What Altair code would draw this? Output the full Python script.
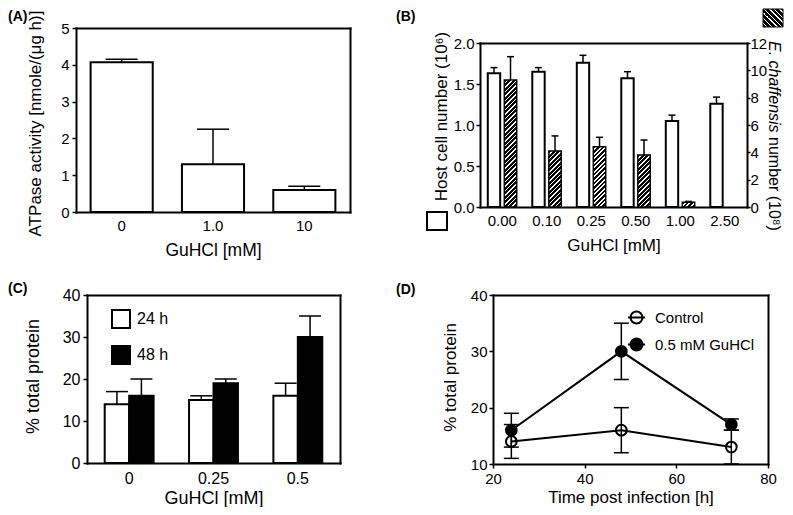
import altair as alt
import pandas as pd

FONT = "Liberation Sans"

# ---------------- data ----------------
# Panel A
A_dose = ["0", "1.0", "10"]
A_val = [4.07, 1.30, 0.60]
A_err = [0.08, 0.95, 0.10]

# Panel B
B_dose = ["0.00", "0.10", "0.25", "0.50", "1.00", "2.50"]
B_host = [1.63, 1.65, 1.76, 1.57, 1.05, 1.26]
B_host_err = [0.07, 0.05, 0.09, 0.08, 0.07, 0.08]
B_ech_dose = ["0.00", "0.10", "0.25", "0.50", "1.00"]
B_ech = [9.3, 4.1, 4.4, 3.8, 0.35]
B_ech_err = [1.7, 1.1, 0.7, 1.1, 0.06]

# Panel C
C_dose = ["0", "0.25", "0.5"]
C_series = ["24 h", "48 h"]
C_24 = [14, 15, 16]
C_24_err = [3, 1, 3]
C_48 = [16, 19, 30]
C_48_err = [4, 1, 5]

# Panel D
D_time = [24, 48, 72]
D_series = ["Control", "0.5 mM GuHCl"]
D_ctrl = [14, 16, 13]
D_ctrl_err = [3, 4, 3]
D_gu = [16, 30, 17]
D_gu_err = [3, 5, 1]

# ---------------- canvas & panel frames (pixels) ----------------
W, H = 777, 499
# each panel: left, right, top, bottom of its plot frame
PA = dict(l=68, r=342, t=20, b=204)
PB = dict(l=472, r=739, t=35, b=199)
PC = dict(l=79, r=332, t=287, b=455)
PD = dict(l=485, r=760, t=287, b=456)


def hatch(w, h, orient="/", period=4.5, black=0.62):
    """Diagonal stripe fill built as a linear gradient with hard stops."""
    k = (w + h) / (w * w + h * h)
    if orient == "/":
        x1, y1, x2, y2 = 0, 0, w * k, h * k
    else:
        x1, y1, x2, y2 = 0, 1, w * k, 1 - h * k
    n = (w + h) / period
    stops = []
    i = 0
    while i < n:
        a = min(i / n, 1)
        b = min((i + black) / n, 1)
        c = min((i + 1) / n, 1)
        stops += [
            {"offset": a, "color": "black"},
            {"offset": b, "color": "black"},
            {"offset": b, "color": "white"},
            {"offset": c, "color": "white"},
        ]
        i += 1
    return {"gradient": "linear", "x1": x1, "y1": y1, "x2": x2, "y2": y2, "stops": stops}


def label(txt, x, y, size=14, weight="bold", style="normal", angle=0, align="left", baseline="top"):
    return alt.Chart(pd.DataFrame({"t": [txt]})).mark_text(
        align=align, baseline=baseline, fontSize=size, fontWeight=weight,
        fontStyle=style, font=FONT, color="black", angle=angle
    ).encode(text="t:N", x=alt.value(x), y=alt.value(y))


def frame_top(P):
    return alt.Axis(orient="top", offset=-P["t"], labels=False, ticks=False, title=None, domain=True)


def frame_right(P):
    return alt.Axis(orient="right", offset=P["r"] - W, labels=False, ticks=False, title=None, domain=True)


# ---------------- Panel A ----------------
dfA = pd.DataFrame({"dose": A_dose, "val": A_val,
                    "up": [v + e for v, e in zip(A_val, A_err)]})
xsA = alt.Scale(domain=A_dose, range=[PA["l"], PA["r"]], paddingInner=0.32, paddingOuter=0.16)
ysA = alt.Scale(domain=[0, 5], range=[PA["b"], PA["t"]])
axA_x = alt.Axis(orient="bottom", offset=PA["b"] - H, title="GuHCl [mM]", labelAngle=0,
                 ticks=False, labelPadding=6, labelFontSize=15, titleFontSize=17.5,
                 titleX=(PA["l"] + PA["r"]) / 2, titleY=38, titleBaseline="middle", titleAlign="center")
axA_y = alt.Axis(orient="left", offset=-PA["l"], title="ATPase activity [nmole/(μg h)]",
                 values=[0, 1, 2, 3, 4, 5], labelFontSize=15, titleFontSize=17,
                 titleX=-41, titleY=115, titleBaseline="middle", titleAlign="center",
                 tickSize=4, labelPadding=3)
barsA = alt.Chart(dfA).mark_bar(fill="white", stroke="black", strokeWidth=2).encode(
    x=alt.X("dose:N", sort=A_dose, scale=xsA, axis=axA_x),
    y=alt.Y("val:Q", scale=ysA, axis=axA_y))
ruleA = alt.Chart(dfA).mark_rule(color="black", strokeWidth=1.5).encode(
    x=alt.X("dose:N", sort=A_dose, scale=xsA, axis=frame_top(PA)),
    y=alt.Y("val:Q", scale=ysA, axis=frame_right(PA)), y2="up:Q")
capA = alt.Chart(dfA).mark_tick(color="black", orient="horizontal", size=32,
                                thickness=1.5, opacity=1).encode(
    x=alt.X("dose:N", sort=A_dose, scale=xsA, axis=None),
    y=alt.Y("up:Q", scale=ysA, axis=None))

# ---------------- Panel B ----------------
B_pi, B_oi = 0.35, 0.25
stepB = (PB["r"] - PB["l"]) / len(B_dose)
bandB = stepB * (1 - B_pi)
barB = bandB / (2 - B_oi) * (1 - B_oi)
HB = PB["b"] - PB["t"]

dfBh = pd.DataFrame({"dose": B_dose, "val": B_host, "s": "host",
                     "up": [v + e for v, e in zip(B_host, B_host_err)]})
dfBe = pd.DataFrame({"dose": B_ech_dose, "val": B_ech, "s": "ech",
                     "up": [v + e for v, e in zip(B_ech, B_ech_err)]})
xsB = alt.Scale(domain=B_dose, range=[PB["l"], PB["r"]], paddingInner=B_pi, paddingOuter=B_pi / 2)
xoB = alt.XOffset("s:N", scale=alt.Scale(domain=["host", "ech"], paddingInner=B_oi, paddingOuter=0))
ysBh = alt.Scale(domain=[0, 2], range=[PB["b"], PB["t"]])
ysBe = alt.Scale(domain=[0, 12], range=[PB["b"], PB["t"]])
axB_x = alt.Axis(orient="bottom", offset=PB["b"] - H, title="GuHCl [mM]", labelAngle=0,
                 ticks=False, labelPadding=6, labelFontSize=15, titleFontSize=17,
                 titleX=(PB["l"] + PB["r"]) / 2, titleY=38, titleBaseline="middle", titleAlign="center")
axB_yl = alt.Axis(orient="left", offset=-PB["l"], title="Host cell number (10⁶)",
                  values=[0, 0.5, 1.0, 1.5, 2.0], format=".1f", labelFontSize=15,
                  titleFontSize=17, titleX=-39, titleY=108, titleBaseline="middle",
                  titleAlign="center", tickSize=4, labelPadding=2)
axB_yr = alt.Axis(orient="right", offset=PB["r"] - W, title=None, values=[0, 2, 4, 6, 8, 10, 12],
                  labelFontSize=15, tickSize=3, labelPadding=0)

hostBars = alt.Chart(dfBh).mark_bar(fill="white", stroke="black", strokeWidth=2).encode(
    x=alt.X("dose:N", sort=B_dose, scale=xsB, axis=axB_x), xOffset=xoB,
    y=alt.Y("val:Q", scale=ysBh, axis=axB_yl))
hostRule = alt.Chart(dfBh).mark_rule(color="black", strokeWidth=1.5).encode(
    x=alt.X("dose:N", sort=B_dose, scale=xsB, axis=frame_top(PB)), xOffset=xoB,
    y=alt.Y("val:Q", scale=ysBh, axis=None), y2="up:Q")
hostCap = alt.Chart(dfBh).mark_tick(color="black", orient="horizontal", size=7,
                                    thickness=1.5, opacity=1).encode(
    x=alt.X("dose:N", sort=B_dose, scale=xsB, axis=None), xOffset=xoB,
    y=alt.Y("up:Q", scale=ysBh, axis=None))

echLayers = []
for i, (d, v) in enumerate(zip(B_ech_dose, B_ech)):
    hpx = v / 12 * HB
    echLayers.append(
        alt.Chart(dfBe).transform_filter(alt.datum.dose == d).mark_bar(
            fill=hatch(barB, hpx, "/"), stroke="black", strokeWidth=1.5).encode(
            x=alt.X("dose:N", sort=B_dose, scale=xsB, axis=None), xOffset=xoB,
            y=alt.Y("val:Q", scale=ysBe, axis=axB_yr if i == 0 else None)))
echRule = alt.Chart(dfBe).mark_rule(color="black", strokeWidth=1.5).encode(
    x=alt.X("dose:N", sort=B_dose, scale=xsB, axis=None), xOffset=xoB,
    y=alt.Y("val:Q", scale=ysBe, axis=None), y2="up:Q")
echCap = alt.Chart(dfBe).mark_tick(color="black", orient="horizontal", size=7,
                                   thickness=1.5, opacity=1).encode(
    x=alt.X("dose:N", sort=B_dose, scale=xsB, axis=None), xOffset=xoB,
    y=alt.Y("up:Q", scale=ysBe, axis=None))

swatchWhite = alt.Chart(pd.DataFrame({"k": [0]})).mark_rect(
    fill="white", stroke="black", strokeWidth=2).encode(
    x=alt.value(419), x2=alt.value(439), y=alt.value(204), y2=alt.value(222))
swatchHatch = alt.Chart(pd.DataFrame({"k": [0]})).mark_rect(
    fill=hatch(20, 18, "\\", period=5), stroke="black", strokeWidth=1).encode(
    x=alt.value(755), x2=alt.value(775), y=alt.value(1), y2=alt.value(19))

# ---------------- Panel C ----------------
rowsC = []
for s, vals, errs in [("24 h", C_24, C_24_err), ("48 h", C_48, C_48_err)]:
    for d, v, e in zip(C_dose, vals, errs):
        rowsC.append({"dose": d, "series": s, "val": v, "up": v + e})
dfC = pd.DataFrame(rowsC)
xsC = alt.Scale(domain=C_dose, range=[PC["l"], PC["r"]], paddingInner=0.42, paddingOuter=0.21)
xoC = alt.XOffset("series:N", scale=alt.Scale(domain=C_series, paddingInner=0, paddingOuter=0))
ysC = alt.Scale(domain=[0, 40], range=[PC["b"], PC["t"]])
axC_x = alt.Axis(orient="bottom", offset=PC["b"] - H, title="GuHCl [mM]", labelAngle=0,
                 ticks=False, labelPadding=7, labelFontSize=16, titleFontSize=18,
                 titleX=(PC["l"] + PC["r"]) / 2, titleY=35, titleBaseline="middle", titleAlign="center")
axC_y = alt.Axis(orient="left", offset=-PC["l"], title="% total protein",
                 values=[0, 10, 20, 30, 40], labelFontSize=16, titleFontSize=18,
                 titleX=-54, titleY=368, titleBaseline="middle", titleAlign="center",
                 tickSize=4, labelPadding=3)
barsC = alt.Chart(dfC).mark_bar(stroke="black", strokeWidth=2).encode(
    x=alt.X("dose:N", sort=C_dose, scale=xsC, axis=axC_x), xOffset=xoC,
    y=alt.Y("val:Q", scale=ysC, axis=axC_y),
    fill=alt.Fill("series:N", scale=alt.Scale(domain=C_series, range=["white", "black"]),
                  legend=alt.Legend(title=None, orient="none", legendX=PC["l"] + 24,
                                    legendY=PC["t"] + 14, symbolType="square", symbolSize=324,
                                    symbolStrokeColor="black", symbolStrokeWidth=2,
                                    labelFontSize=16, labelFont=FONT, rowPadding=10,
                                    labelOffset=6, padding=0)))
ruleC = alt.Chart(dfC).mark_rule(color="black", strokeWidth=1.5).encode(
    x=alt.X("dose:N", sort=C_dose, scale=xsC, axis=frame_top(PC)), xOffset=xoC,
    y=alt.Y("val:Q", scale=ysC, axis=frame_right(PC)), y2="up:Q")
capC = alt.Chart(dfC).mark_tick(color="black", orient="horizontal", size=22,
                                thickness=1.5, opacity=1).encode(
    x=alt.X("dose:N", sort=C_dose, scale=xsC, axis=None), xOffset=xoC,
    y=alt.Y("up:Q", scale=ysC, axis=None))

# ---------------- Panel D ----------------
rowsD = []
for s, vals, errs in [("Control", D_ctrl, D_ctrl_err), ("0.5 mM GuHCl", D_gu, D_gu_err)]:
    for t, v, e in zip(D_time, vals, errs):
        rowsD.append({"t": t, "series": s, "val": v, "lo": v - e, "hi": v + e})
dfD = pd.DataFrame(rowsD)
xsD = alt.Scale(domain=[20, 80], nice=False, range=[PD["l"], PD["r"]])
ysD = alt.Scale(domain=[10, 40], nice=False, zero=False, range=[PD["b"], PD["t"]])
axD_x = alt.Axis(orient="bottom", offset=PD["b"] - H, title="Time post infection [h]",
                 values=[20, 40, 60, 80], labelFontSize=15, titleFontSize=17, tickSize=4,
                 labelPadding=3, titleX=(PD["l"] + PD["r"]) / 2, titleY=33,
                 titleBaseline="middle", titleAlign="center")
axD_y = alt.Axis(orient="left", offset=-PD["l"], title="% total protein", values=[10, 20, 30, 40],
                 labelFontSize=15, titleFontSize=17, titleX=-43, titleY=369,
                 titleBaseline="middle", titleAlign="center", tickSize=4, labelPadding=2)
SYM = "M-1,0L1,0M-0.7,0A0.7,0.7,0,1,1,0.7,0A0.7,0.7,0,1,1,-0.7,0Z"
lineD = alt.Chart(dfD).mark_line(color="black", strokeWidth=2).encode(
    x=alt.X("t:Q", scale=xsD, axis=axD_x), y=alt.Y("val:Q", scale=ysD, axis=axD_y),
    detail="series:N")
ruleD = alt.Chart(dfD).mark_rule(color="black", strokeWidth=1.5).encode(
    x=alt.X("t:Q", scale=xsD, axis=frame_top(PD)),
    y=alt.Y("lo:Q", scale=ysD, axis=frame_right(PD)), y2="hi:Q")
capLoD = alt.Chart(dfD).mark_tick(color="black", orient="horizontal", size=15,
                                  thickness=1.5, opacity=1).encode(
    x=alt.X("t:Q", scale=xsD, axis=None), y=alt.Y("lo:Q", scale=ysD, axis=None))
capHiD = alt.Chart(dfD).mark_tick(color="black", orient="horizontal", size=15,
                                  thickness=1.5, opacity=1).encode(
    x=alt.X("t:Q", scale=xsD, axis=None), y=alt.Y("hi:Q", scale=ysD, axis=None))
pointsD = alt.Chart(dfD).mark_point(shape="circle", size=115, stroke="black",
                                    strokeWidth=2, opacity=1).encode(
    x=alt.X("t:Q", scale=xsD, axis=None), y=alt.Y("val:Q", scale=ysD, axis=None),
    fill=alt.Fill("series:N", scale=alt.Scale(domain=D_series, range=["transparent", "black"]),
                  legend=alt.Legend(title=None, orient="none", legendX=PD["l"] + 134,
                                    legendY=PD["t"] + 13, symbolType=SYM, symbolSize=289,
                                    symbolStrokeColor="black", symbolStrokeWidth=2,
                                    labelFontSize=15, labelFont=FONT, rowPadding=6,
                                    labelOffset=9, padding=0)))

# ---------------- assemble ----------------
chart = alt.layer(
    barsA, ruleA, capA,
    hostBars, hostRule, hostCap, *echLayers, echRule, echCap,
    barsC, ruleC, capC,
    lineD, ruleD, capLoD, capHiD, pointsD,
    swatchWhite, swatchHatch,
    label("(A)", 0, 2), label("(B)", 388, 2), label("(C)", 0, 274), label("(D)", 388, 275),
    label("E. chaffensis", 766, 33, size=16, weight="normal", style="italic",
          angle=90, align="left", baseline="middle"),
    label("number (10⁸)", 766, 129, size=16, weight="normal",
          angle=90, align="left", baseline="middle"),
).resolve_scale(
    x="independent", y="independent", xOffset="independent", fill="independent"
).properties(
    width=W, height=H, padding=0, autosize=alt.AutoSizeParams(type="none")
).configure(
    font=FONT
).configure_view(
    strokeWidth=0
).configure_axis(
    grid=False, domainColor="black", domainWidth=2, domainCap="square",
    tickColor="black", tickWidth=1.5, labelColor="black",
    titleColor="black", titleFontWeight="normal", labelFont=FONT, titleFont=FONT,
    labelFlush=False
).configure_legend(labelColor="black")

chart.save("out.html", embed_options={"renderer": "svg", "actions": False})
